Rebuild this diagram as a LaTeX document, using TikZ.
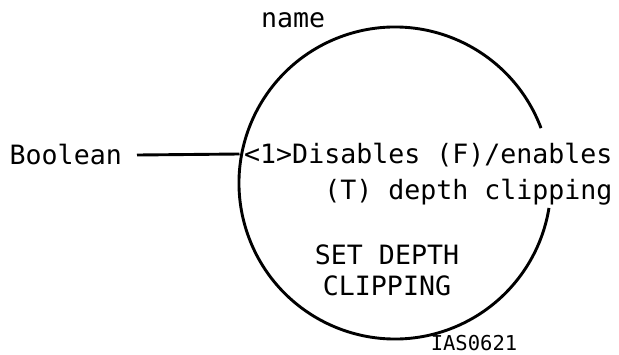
\documentclass[tikz,border=0pt]{standalone}
\usepackage{fontspec}
\setmainfont{DejaVu Sans Mono}
\tikzset{
  lbl/.style={font=\fontsize{26.6}{31}\selectfont, inner sep=0pt},
  tag/.style={font=\fontsize{20.5}{24}\selectfont, inner sep=0pt},
  wire/.style={line width=2.9pt}
}
\begin{document}
\begin{tikzpicture}[x=1pt,y=1pt]
        \useasboundingbox (0,0) rectangle (619,354);
        % Process circle, open on the right for the text
        \coordinate (proc) at (395,171);
        \draw[wire] (proc) ++(20.6:156) arc[start angle=20.6, end angle=350.8, radius=156];
        \coordinate (entry) at (239.5,200);

        % Input
        \node[lbl, anchor=base east] (bool) at (122,189) {Boolean};
        \draw[wire] ([xshift=15pt]bool.east) -- (entry);

        % Labels
        \node[lbl, anchor=base west] (name) at (261,326) {name};
        \node[lbl, anchor=base west] (desc1) at (244,190) {<1>Disables (F)/enables};
        \node[lbl, anchor=base east] (desc2) at ([yshift=-36pt]desc1.base east) {(T) depth clipping};
        \node[lbl, anchor=north, align=center] (title) at (387,109) {SET DEPTH\\CLIPPING};
        \node[tag, anchor=base] (fig) at (474,3.5) {IAS0621};
    \end{tikzpicture}
\end{document}
